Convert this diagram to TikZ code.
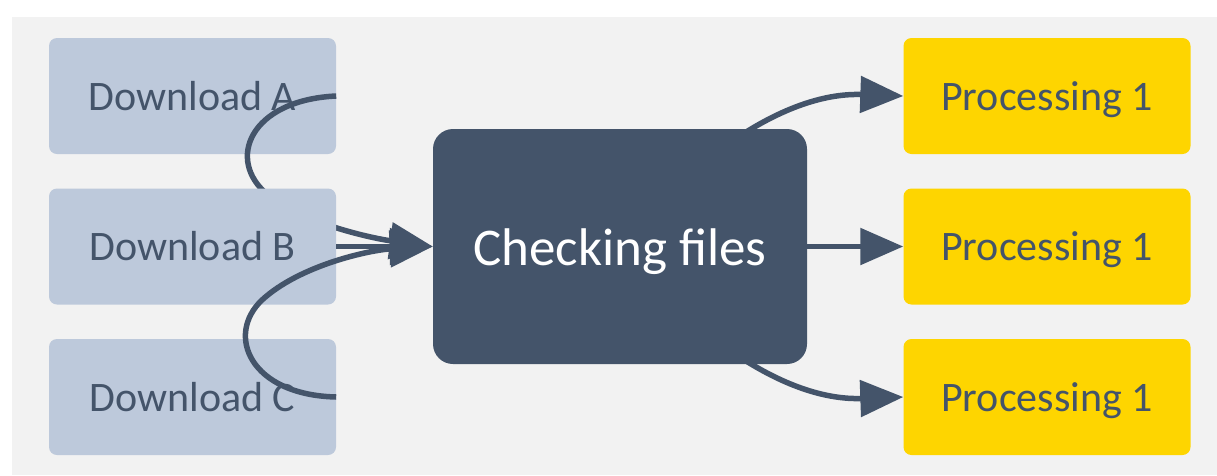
\documentclass[tikz,border=0pt]{standalone}
\usepackage{fontspec}
\setmainfont{Carlito}
\usetikzlibrary{arrows.meta}
\definecolor{slate}{HTML}{44546A}
\definecolor{paleblue}{HTML}{BDC9DB}
\definecolor{gold}{HTML}{FED500}
\definecolor{canvas}{HTML}{F2F2F2}
\pgfdeclarelayer{bg}
\pgfdeclarelayer{lowboxes}
\pgfdeclarelayer{lowlinks}
\pgfsetlayers{bg,lowboxes,lowlinks,main}
\begin{document}
\begin{tikzpicture}[x=1pt,y=-1pt,
  smallbox/.style={rounded corners=8pt, minimum width=287pt, minimum height=116pt,
    inner sep=0pt, text height=28pt, text depth=0pt,
    font=\fontsize{42}{50}\selectfont},
  source/.style={smallbox, fill=paleblue, text=slate},
  target/.style={smallbox, fill=gold, text=slate},
  hub/.style={rounded corners=20pt, fill=slate, text=white, minimum width=374pt,
    minimum height=235pt, inner sep=0pt, text height=37pt, text depth=0pt,
    font=\fontsize{53}{60}\selectfont},
  link/.style={draw=slate, line width=5.5pt, -{Triangle[length=43pt,width=36pt]}}]
  \useasboundingbox (0,0) rectangle (1217,475);
  \begin{pgfonlayer}{bg}
    \fill[canvas] (12,17) rectangle (1217,475);
  \end{pgfonlayer}
  \begin{pgfonlayer}{lowboxes}
    \node[source] (dlA) at (192.5,96) {Download A};
  \end{pgfonlayer}
  \node[source] (dlB) at (192.5,246.5) {Download B};
  \node[source] (dlC) at (192.5,397) {Download C};
  \node[hub] (check) at (620,246.5) {Checking files};
  \node[target] (p1) at (1047,96) {Processing 1};
  \node[target] (p2) at (1047,246.5) {Processing 1};
  \node[target] (p3) at (1047,397) {Processing 1};
  % links that pass beneath the boxes drawn above them
  \begin{pgfonlayer}{lowlinks}
    \draw[link] (dlA.east) .. controls (250,100) and (225,160) .. (268,195)
      .. controls (300,222) and (370,238) .. (check.west);
    \draw[link] (check.center) .. controls (700,150) and (790,92) .. (p1.west);
    \draw[link] (check.center) .. controls (700,343) and (790,401) .. (p3.west);
  \end{pgfonlayer}
  \draw[link] (dlB.east) -- (check.west);
  \draw[link] (dlC.east) .. controls (250,395) and (225,335) .. (262,300)
    .. controls (300,265) and (370,250) .. (check.west);
  \draw[link] (check.east) -- (p2.west);
\end{tikzpicture}
\end{document}
